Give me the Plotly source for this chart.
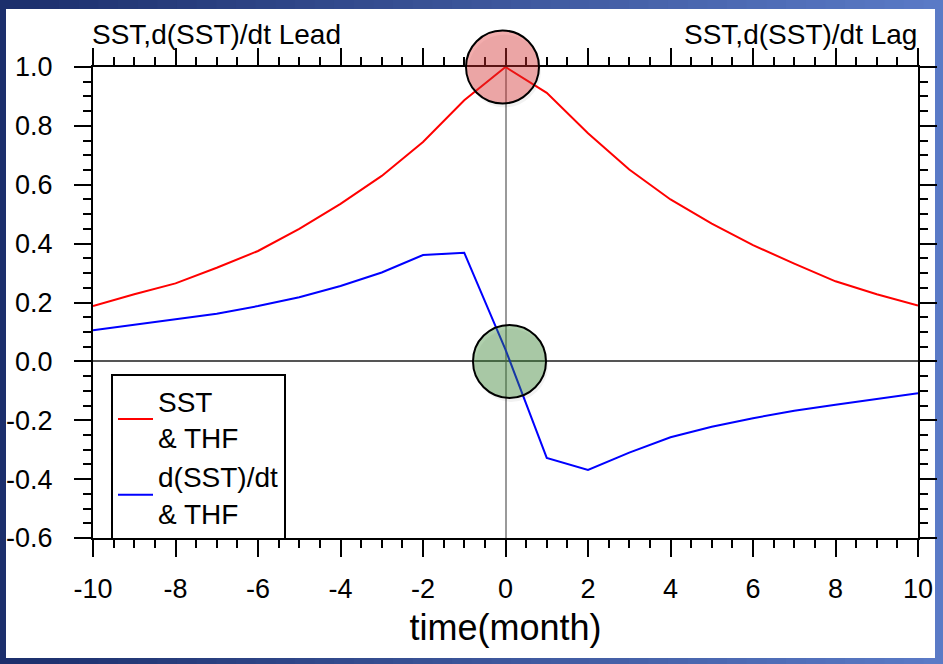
import plotly.graph_objects as go

# ---- data ----
months = list(range(-10, 11))
sst_thf = [0.188, 0.228, 0.265, 0.318, 0.375, 0.45, 0.535, 0.63, 0.745, 0.887, 1.0,
           0.912, 0.775, 0.652, 0.55, 0.468, 0.395, 0.332, 0.272, 0.228, 0.19]
dsst_thf = [0.106, 0.124, 0.142, 0.162, 0.188, 0.218, 0.256, 0.302, 0.361, 0.369, 0.04,
            -0.328, -0.369, -0.31, -0.258, -0.222, -0.193, -0.168, -0.147, -0.128, -0.108]

x_tickvals = [-10, -8, -6, -4, -2, 0, 2, 4, 6, 8, 10]
x_ticktext = ["-10", "-8", "-6", "-4", "-2", "0", "2", "4", "6", "8", "10"]
y_tickvals = [-0.6, -0.4, -0.2, 0.0, 0.2, 0.4, 0.6, 0.8, 1.0]
y_ticktext = ["-0.6", "-0.4", "-0.2", "0.0", "0.2", "0.4", "0.6", "0.8", "1.0"]

x_range = [-10, 10]
y_range = [-0.6, 1.0]

title_left = "SST,d(SST)/dt Lead"
title_right = "SST,d(SST)/dt Lag"
x_title = "time(month)"
names = ["SST<br>& THF", "d(SST)/dt<br>& THF"]

# highlighted points (data coords)
highlights = [(0, 1.0), (0, 0.0)]

# ---- layout geometry (pixels) ----
W, H = 943, 664
L, R, T, B = 93, 25, 67, 126
pw, ph = W - L - R, H - T - B


def px2paper_x(px):
    return (px - L) / pw


def py2paper_y(py):
    return (H - B - py) / ph


def dx2paper(x):
    return (x - x_range[0]) / (x_range[1] - x_range[0])


def dy2paper(y):
    return (y - y_range[0]) / (y_range[1] - y_range[0])


FONT = "Liberation Sans, Arial, Helvetica, sans-serif"

fig = go.Figure()
fig.add_trace(go.Scatter(x=months, y=sst_thf, mode="lines", name=names[0],
                         line=dict(color="#ff0000", width=2)))
fig.add_trace(go.Scatter(x=months, y=dsst_thf, mode="lines", name=names[1],
                         line=dict(color="#0000ff", width=2)))

shapes = []
# gradient background (slide)
n = 48
c0 = (0x1c, 0x2f, 0x6c)
c1 = (0x5a, 0x7a, 0xc6)
for i in range(n):
    t = i / (n - 1)
    col = "rgb(%d,%d,%d)" % tuple(int(round(a + (b - a) * t)) for a, b in zip(c0, c1))
    x0 = i * W / n
    x1 = (i + 1) * W / n + 1
    shapes.append(dict(type="rect", xref="paper", yref="paper",
                       x0=px2paper_x(x0), x1=px2paper_x(x1),
                       y0=py2paper_y(H), y1=py2paper_y(0),
                       fillcolor=col, line=dict(width=0), layer="below"))
# white panel
shapes.append(dict(type="rect", xref="paper", yref="paper",
                   x0=px2paper_x(6), x1=px2paper_x(935),
                   y0=py2paper_y(658), y1=py2paper_y(9),
                   fillcolor="white", line=dict(width=0), layer="below"))

# highlight circles (with soft shadow); paper-referenced so they are not clipped
styles = [(-3, 0, "rgba(224,49,49,0.4)"), (4, 0, "rgba(57,137,50,0.4)")]
for (hx, hy), (dx, dy, fill) in zip(highlights, styles):
    r = 36.5
    xa, ya = dx2paper(hx), dy2paper(hy)
    shapes.append(dict(type="circle", xref="paper", yref="paper", xsizemode="pixel", ysizemode="pixel",
                       xanchor=xa, yanchor=ya, x0=dx - r + 2, x1=dx + r + 2,
                       y0=dy - r - 4, y1=dy + r - 4,
                       fillcolor="rgba(0,0,0,0.05)", line=dict(width=0), layer="above"))
    shapes.append(dict(type="circle", xref="paper", yref="paper", xsizemode="pixel", ysizemode="pixel",
                       xanchor=xa, yanchor=ya, x0=dx - r, x1=dx + r, y0=dy - r, y1=dy + r,
                       fillcolor=fill, line=dict(color="black", width=2), layer="above"))

fig.update_layout(
    width=W, height=H,
    margin=dict(l=L, r=R, t=T, b=B, pad=0, autoexpand=False),
    paper_bgcolor="#2e4688",
    plot_bgcolor="white",
    font=dict(family=FONT, color="black"),
    shapes=shapes,
    showlegend=True,
    legend=dict(x=px2paper_x(111), y=py2paper_y(374), xanchor="left", yanchor="top",
                bgcolor="white", bordercolor="black", borderwidth=2,
                font=dict(size=28, family=FONT), tracegroupgap=0, itemwidth=35,
                valign="middle"),
    annotations=[
        dict(text=title_left, xref="paper", yref="paper", x=px2paper_x(90), y=py2paper_y(34),
             xanchor="left", yanchor="middle", showarrow=False, font=dict(size=28, family=FONT)),
        dict(text=title_right, xref="paper", yref="paper", x=px2paper_x(919), y=py2paper_y(34),
             xanchor="right", yanchor="middle", showarrow=False, font=dict(size=28, family=FONT)),
    ],
)

fig.update_xaxes(
    range=x_range, tickvals=x_tickvals, ticktext=x_ticktext, automargin=False,
    showline=True, linecolor="black", linewidth=2, mirror="ticks",
    ticks="outside", ticklen=17, tickwidth=2, tickcolor="black",
    ticklabelstandoff=9,
    minor=dict(dtick=0.5, tick0=-10, ticks="outside", ticklen=8, tickwidth=1.5, tickcolor="black"),
    showgrid=False, zeroline=True, zerolinecolor="#9a9a9a", zerolinewidth=1.5,
    tickfont=dict(size=27, family=FONT),
    title=dict(text=x_title, font=dict(size=36, family=FONT), standoff=11),
)
fig.update_yaxes(
    range=y_range, tickvals=y_tickvals, ticktext=y_ticktext, automargin=False,
    showline=True, linecolor="black", linewidth=2, mirror="ticks",
    ticks="outside", ticklen=17, tickwidth=2, tickcolor="black",
    ticklabelstandoff=16,
    minor=dict(dtick=0.05, tick0=0, ticks="outside", ticklen=8, tickwidth=1.5, tickcolor="black"),
    showgrid=False, zeroline=True, zerolinecolor="#555555", zerolinewidth=1.5,
    tickfont=dict(size=27, family=FONT),
)

fig.write_html("out.html")
